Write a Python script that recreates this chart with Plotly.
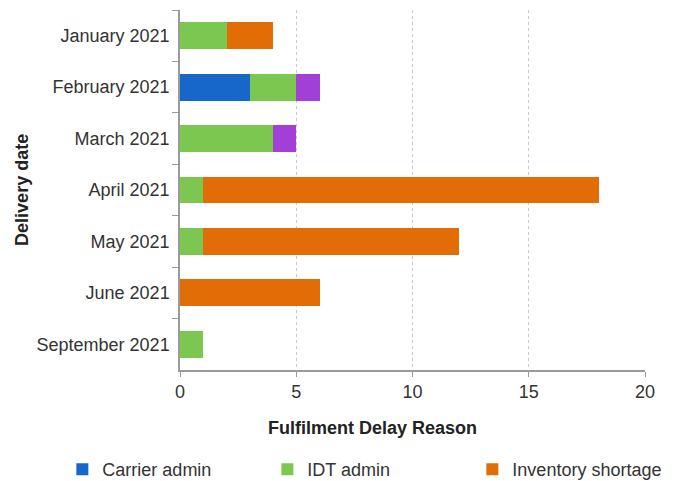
import plotly.graph_objects as go

# Delivery months (top to bottom)
months = ["January 2021", "February 2021", "March 2021", "April 2021",
          "May 2021", "June 2021", "September 2021"]

# Delay counts per reason
carrier_admin = [0, 3, 0, 0, 0, 0, 0]
idt_admin = [2, 2, 4, 1, 1, 0, 1]
inventory_shortage = [2, 0, 0, 17, 11, 6, 0]
other_reason = [0, 1, 1, 0, 0, 0, 0]

x_ticks = [0, 5, 10, 15, 20]

FONT = "Liberation Sans, Arial, sans-serif"
TEXT = "#333333"
AXIS = "#9a9a9a"
FS = 18

series = [
    ("Carrier admin", carrier_admin, "#1767cb", True),
    ("IDT admin", idt_admin, "#7bc750", True),
    ("Inventory shortage", inventory_shortage, "#e26d07", True),
    ("Other", other_reason, "#a23fd6", False),
]

fig = go.Figure()
for name, vals, color, show in series:
    fig.add_trace(go.Bar(
        y=months, x=vals, name=name, orientation="h",
        marker=dict(color=color, line=dict(width=0)),
        showlegend=show,
    ))

fig.update_layout(
    width=683, height=481,
    margin=dict(l=180, r=38, t=10, b=111, autoexpand=False),
    barmode="stack", bargap=0.48,
    plot_bgcolor="white", paper_bgcolor="white",
    font=dict(family=FONT, size=FS, color=TEXT),
    legend=dict(
        orientation="h", x=-0.253, xanchor="left", y=-0.225, yanchor="top",
        entrywidth=160, entrywidthmode="pixels",
        font=dict(size=FS, color=TEXT), itemwidth=30,
        traceorder="normal",
    ),
    annotations=[
        dict(text="<b>Fulfilment Delay Reason</b>", xref="paper", yref="paper",
             x=0.413, y=-0.16, xanchor="center", yanchor="middle",
             showarrow=False, font=dict(size=FS, color="#222222")),
        dict(text="<b>Delivery date</b>", xref="paper", yref="paper",
             x=-0.34, y=0.5, xanchor="center", yanchor="middle", textangle=-90,
             showarrow=False, font=dict(size=FS, color="#222222")),
    ],
)

fig.update_xaxes(
    range=[0, 20], tickvals=x_ticks, ticks="outside", ticklen=5,
    tickcolor=AXIS, showline=True, linecolor=AXIS, linewidth=1.5,
    showgrid=True, gridcolor="#c8c8c8", griddash="dot", gridwidth=1,
    zeroline=False, tickfont=dict(size=FS, color=TEXT),
)
fig.update_yaxes(
    autorange="reversed", categoryorder="array", categoryarray=months,
    ticks="outside", tickson="boundaries", ticklen=6, tickcolor=AXIS,
    showline=True, linecolor=AXIS, linewidth=1.5, showgrid=False,
    tickfont=dict(size=FS, color=TEXT), ticksuffix=" ",
)

fig.write_html("out.html")
